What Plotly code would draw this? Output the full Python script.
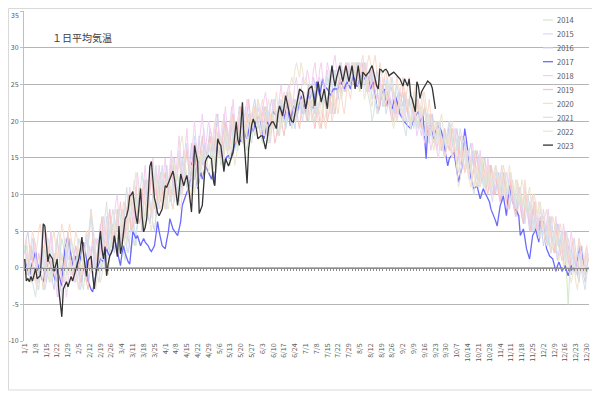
import plotly.graph_objects as go

# ---------------- data ----------------
tick_labels = ["1/1","1/8","1/15","1/22","1/29","2/5","2/12","2/19","2/26","3/4","3/11","3/18","3/25",
               "4/1","4/8","4/15","4/22","4/29","5/6","5/13","5/20","5/27","6/3","6/10","6/17","6/24",
               "7/1","7/8","7/15","7/22","7/29","8/5","8/12","8/19","8/26","9/2","9/9","9/16","9/23",
               "9/30","10/7","10/14","10/21","10/28","11/4","11/11","11/18","11/25","12/2","12/9",
               "12/16","12/23","12/30"]
month_lengths = [31, 29, 31, 30, 31, 30, 31, 31, 30, 31, 30, 31]
years = ["2014","2015","2016","2017","2018","2019","2020","2021","2022","2023"]
y_ticks = [-10, -5, 0, 5, 10, 15, 20, 25, 30, 35]

t2014 = [
 [2,3,1,0,-1,1,2,0,-1,-2,0,1,3,2,0,-1,-2,0,1,2,1,-1,0,2,4,3,1,-1,0,1,2],
 [1,-1,-2,0,2,1,-2,-3,-1,1,3,2,0,-1,1,3,4,2,1,0,2,4,5,3,2,4,6,5,3],
 [2,3,5,4,2,1,3,5,7,6,4,3,5,6,8,7,5,6,8,9,7,6,8,10,9,7,8,10,12,11,9],
 [8,10,12,11,9,8,10,12,13,11,10,12,14,13,11,10,12,14,15,13,12,11,13,15,16,14,13,15,17,16],
 [14,13,15,17,18,16,14,15,17,18,16,15,14,16,18,19,17,16,18,19,20,18,17,16,18,20,21,19,18,19,20],
 [19,18,17,19,20,21,19,18,20,21,22,20,19,18,20,22,21,19,20,22,23,21,20,19,21,22,23,22,21,22],
 [21,20,22,23,24,22,21,23,24,25,23,22,24,25,26,24,23,22,24,25,26,27,25,24,25,26,27,26,25,26,27],
 [26,25,27,26,24,25,26,27,26,25,24,26,27,25,24,23,25,26,24,23,22,24,25,23,22,21,23,24,22,21,23],
 [22,21,23,24,22,21,20,22,23,21,20,19,21,22,20,19,18,20,21,19,18,17,19,20,18,17,16,18,17,16],
 [17,18,19,17,16,15,17,18,16,15,14,16,17,15,14,13,15,16,14,13,12,14,15,13,12,11,13,14,12,11,12],
 [13,12,11,10,12,13,11,10,9,11,12,10,9,8,10,11,9,8,7,9,10,8,7,6,8,9,7,6,5,7],
 [6,5,4,6,7,5,4,3,5,6,4,3,2,4,5,3,-2,-5,-1,1,2,1,0,2,3,1,0,-1,1,2,1],
]
t2015 = [
 [3,1,-1,0,2,4,3,0,-2,-1,1,2,0,-3,-2,1,3,5,2,0,-1,1,3,2,-1,-2,0,2,4,1,-1],
 [0,2,3,1,-1,-3,-2,0,3,5,2,0,1,3,1,-1,2,4,6,3,1,4,7,5,2,3,5,4,6],
 [7,4,2,5,8,6,3,2,4,7,9,5,3,6,9,11,8,6,7,10,12,9,7,8,11,13,10,8,11,14,12],
 [10,8,11,13,15,12,9,11,14,16,13,10,12,15,17,14,11,13,16,18,15,13,12,14,17,19,16,14,16,18],
 [17,15,16,19,20,17,15,18,21,19,16,17,20,22,18,16,17,19,21,18,17,20,22,19,17,18,20,21,19,20,22],
 [21,19,18,20,22,21,18,17,19,21,23,20,18,19,22,23,21,19,20,22,24,22,20,19,21,23,24,21,20,22],
 [23,21,22,24,25,23,21,23,25,26,24,22,23,25,27,25,23,24,26,27,25,24,26,28,26,24,25,27,28,26,25],
 [27,28,26,25,27,28,27,25,24,26,27,25,23,24,26,25,23,22,24,25,23,21,22,24,23,21,20,22,23,21,22],
 [23,24,22,20,21,23,22,20,19,21,23,21,19,18,20,22,20,18,17,19,21,19,17,16,18,20,18,16,15,17],
 [18,19,17,15,16,18,17,15,13,14,16,17,15,13,12,14,16,14,12,11,13,15,13,11,10,12,14,12,10,9,11],
 [12,13,11,9,10,12,13,11,9,8,10,12,10,8,7,9,11,9,7,6,8,10,8,6,5,7,9,7,5,4],
 [6,8,6,4,3,5,7,5,3,2,4,6,4,2,1,3,5,3,1,0,2,4,2,0,-1,1,3,1,-1,0,2],
]
t2016 = [
 [2,4,5,3,1,2,4,3,0,-1,1,3,2,-1,-2,0,2,1,-2,-3,-1,-2,-4,-3,-1,1,2,0,3,4,2],
 [1,-1,0,2,1,-1,-2,0,2,4,3,6,8,4,1,0,2,1,3,5,2,0,1,3,5,7,4,2,6],
 [8,5,3,4,6,9,7,4,3,2,5,7,6,8,10,7,5,9,12,10,7,6,8,6,5,7,10,12,13,11,9],
 [12,14,11,9,10,13,15,12,10,9,11,14,16,13,11,12,15,17,14,12,13,16,18,15,14,16,17,15,17,19],
 [18,16,17,19,21,18,16,15,17,20,19,17,18,21,20,17,18,20,22,21,19,17,18,20,21,19,20,22,23,21,20],
 [19,20,22,21,19,18,20,22,23,21,19,20,21,23,22,20,21,23,24,22,20,21,23,22,21,23,24,22,21,23],
 [22,24,25,23,24,26,25,22,21,23,25,26,24,22,23,24,22,21,23,25,24,23,25,26,27,25,24,26,27,25,26],
 [27,26,27,28,26,25,27,28,27,26,25,27,26,24,25,27,26,24,23,25,26,24,22,23,25,24,22,21,23,24,22],
 [23,22,24,23,21,22,24,23,21,20,22,23,21,19,20,22,21,19,18,20,21,19,18,19,20,18,17,18,19,17],
 [18,20,19,17,16,18,19,17,15,16,18,17,15,14,16,17,15,13,14,16,15,13,12,14,15,13,11,12,14,13,11],
 [10,12,13,11,9,10,12,11,9,8,10,11,9,7,8,10,9,7,6,8,9,7,5,6,8,7,5,4,6,7],
 [5,3,4,6,5,3,2,4,5,3,1,2,4,3,1,0,2,3,1,-1,0,2,1,-1,-2,0,1,-1,-2,0,1],
]
t2017 = [
 1.2,0.3,-0.5,-1.1,0.0,0.8,1.5,2.2,0.8,0.0,
 -1.1,-1.5,-1.9,-1.1,0.0,1.2,0.8,0.3,-0.5,-1.2,
 -1.9,-0.1,-1.0,-2.0,-2.5,0.5,2.6,3.5,4.4,2.8,
 1.2,0.3,1.0,1.6,-0.1,0.5,1.2,2.5,3.5,2.3,
 1.2,-1.8,-2.5,-3.0,-3.3,-1.9,-1.0,-0.1,0.5,1.2,
 1.0,0.8,1.8,2.6,2.0,1.6,2.0,2.6,4.4,3.5,
 2.2,1.2,0.3,2.0,3.0,2.0,1.2,0.8,0.5,2.5,
 4.9,4.5,4.0,4.4,3.8,3.0,3.5,4.0,3.5,3.2,
 3.0,2.5,2.2,2.6,3.0,4.5,6.3,5.0,4.0,3.0,
 2.8,2.6,3.8,4.9,6.7,6.0,5.3,5.0,4.6,4.4,
 5.3,6.3,8.5,9.2,9.8,10.3,10.8,12.0,13.9,14.8,
 15.8,13.0,10.8,12.0,13.1,12.1,13.0,13.9,13.5,13.1,
 12.6,12.1,13.1,11.2,14.5,17.2,16.8,16.2,15.0,13.9,
 14.5,15.2,15.3,14.9,15.5,16.2,17.0,17.5,18.0,17.5,
 17.2,18.0,18.6,18.0,17.6,18.7,19.9,19.2,18.6,19.5,
 20.2,20.7,20.3,19.9,18.8,17.6,18.7,19.9,19.6,19.4,
 20.3,21.3,21.0,20.8,20.7,21.4,22.1,21.2,20.3,21.4,
 22.6,21.0,19.4,20.8,22.1,21.7,21.5,21.3,22.4,23.5,
 22.8,22.1,21.3,22.6,24.0,23.0,22.0,21.7,23.5,25.4,
 24.5,23.5,24.6,25.8,24.8,24.6,24.4,24.0,23.5,24.0,
 24.4,24.4,24.4,24.4,25.0,25.4,24.8,24.4,25.0,25.4,
 24.9,24.4,25.3,26.2,25.5,24.8,24.8,25.8,26.7,26.2,
 25.8,26.0,26.2,25.3,24.4,25.0,25.4,23.5,22.0,21.3,
 22.4,23.5,24.0,24.4,22.1,22.6,23.1,22.4,21.7,22.6,
 23.5,22.8,22.1,21.0,20.7,20.3,19.9,19.6,19.4,19.2,
 19.0,19.7,20.3,20.7,21.0,21.3,19.9,20.3,20.7,17.8,
 14.9,18.6,19.0,19.4,18.5,17.6,18.5,19.0,19.4,19.0,
 18.6,17.4,16.2,15.0,13.9,14.9,15.2,15.5,15.8,14.5,
 13.1,11.7,12.6,13.5,16.3,19.0,17.6,15.7,13.9,12.3,
 11.5,10.8,11.0,11.2,10.3,9.4,10.1,10.8,10.3,9.8,
 9.4,9.0,8.0,7.5,7.1,6.4,5.7,7.1,8.5,9.1,
 9.8,8.5,7.1,9.1,11.2,10.1,9.0,8.5,8.0,7.5,
 7.1,4.4,4.8,5.3,4.0,2.6,1.9,1.2,2.8,4.4,
 4.8,5.3,4.4,3.5,6.3,6.3,6.3,4.5,2.6,2.1,
 1.6,1.4,1.2,0.4,-0.5,0.2,0.8,0.2,-0.5,-0.1,
 0.3,-0.4,-1.1,-0.4,0.3,-0.1,-0.5,0.3,1.2,2.1,
 3.0,1.6,0.3,0.0,-0.4,-0.1,
]
t2018 = [
 [0,2,1,-1,-2,0,3,2,0,-2,1,4,6,3,0,-1,2,5,3,0,-2,-4,-3,-5,-3,-1,-2,-4,-2,0,1],
 [-1,-2,0,-1,-3,-2,0,1,-1,-2,1,3,2,0,2,4,3,1,2,5,7,4,3,6,8,5,4,7,9],
 [10,6,5,8,7,4,5,8,11,9,6,7,10,13,11,8,9,12,14,11,8,10,13,15,12,10,11,14,12,10,13],
 [15,12,11,14,16,13,11,13,16,18,15,12,14,17,19,16,14,15,18,20,17,15,17,19,21,18,16,18,20,19],
 [18,17,19,21,20,18,16,18,20,22,19,17,18,21,23,20,18,19,21,22,20,19,21,23,22,20,19,21,22,21,23],
 [22,20,21,23,24,22,20,19,21,23,22,20,21,23,25,23,21,22,24,25,23,22,23,25,26,24,23,24,26,25],
 [25,27,26,24,25,27,28,26,25,27,28,26,24,26,28,27,25,26,28,29,27,26,27,28,26,25,27,28,27,26,27],
 [28,27,26,27,28,26,25,27,28,26,24,25,27,26,24,23,25,26,24,22,23,25,24,22,21,23,24,22,20,21,23],
 [22,20,21,23,22,20,19,21,22,20,18,19,21,20,18,17,19,20,18,16,17,19,18,16,15,17,18,16,15,16],
 [17,18,16,15,17,19,18,16,14,15,17,18,16,14,13,15,17,15,13,12,14,16,14,12,11,13,15,13,11,10,12],
 [13,11,10,12,14,12,10,9,11,13,11,9,8,10,12,10,8,7,9,11,9,7,6,8,10,8,6,5,7,8],
 [7,5,4,6,8,6,4,3,5,7,5,3,2,4,6,4,2,1,3,5,3,1,0,2,4,2,0,-1,1,3,1],
]
t2019 = [
 [1,-1,0,2,3,1,-1,-2,0,2,1,-1,-3,-1,1,3,2,0,-1,1,2,4,2,0,-2,-1,1,3,5,2,0],
 [-1,1,3,2,0,-2,-1,1,0,-2,-3,-1,2,4,3,1,0,2,5,7,4,2,3,6,8,5,3,4,6],
 [5,7,9,6,4,5,8,10,7,5,6,9,11,8,6,7,10,12,9,7,8,11,13,10,8,9,12,11,9,10,12],
 [13,11,10,12,14,12,10,11,13,15,13,11,12,14,16,14,12,13,15,17,15,13,14,16,18,16,14,15,17,18],
 [16,15,17,19,18,16,15,17,19,20,18,16,17,19,21,19,17,18,20,22,20,18,19,21,23,21,19,20,22,21,20],
 [19,18,20,22,21,19,18,20,21,19,17,18,20,22,21,19,18,20,22,23,21,20,21,23,22,20,19,21,23,22],
 [21,20,22,23,21,20,19,21,22,20,19,21,23,22,20,21,23,24,22,21,23,25,26,24,25,27,28,26,25,27,28],
 [27,26,28,27,25,26,28,27,25,24,26,27,25,24,26,25,23,22,24,25,23,22,24,23,21,20,22,23,21,22,24],
 [23,25,24,22,21,23,24,22,20,21,23,22,20,19,21,22,20,18,19,21,20,18,17,19,20,18,16,17,19,18],
 [17,16,18,19,17,15,14,16,18,17,15,13,14,16,15,13,12,14,16,15,13,11,12,14,13,11,10,12,14,12,10],
 [11,12,10,9,11,13,11,9,8,10,12,10,8,7,9,11,9,7,6,8,10,8,6,5,7,9,7,5,4,6],
 [7,6,4,3,5,7,5,3,2,4,6,4,2,1,3,5,3,1,0,2,4,2,0,-1,1,3,1,-1,0,2,1],
]
t2020 = [
 [3,4,2,1,3,5,4,2,3,5,6,4,2,3,5,3,1,2,4,5,3,1,2,4,6,5,3,2,4,6,4],
 [2,3,5,4,2,0,-1,1,3,5,4,6,8,6,4,2,1,3,5,4,2,3,5,7,6,4,5,7,8],
 [6,4,5,7,9,7,5,6,8,10,8,6,7,9,11,9,7,8,10,12,10,8,7,9,11,13,11,9,8,10,9],
 [8,10,12,11,9,8,10,12,11,9,8,10,12,14,12,10,9,11,13,15,13,11,12,14,16,14,13,15,17,16],
 [17,18,20,19,17,16,18,20,19,17,16,18,20,21,19,17,18,20,21,19,18,17,19,21,20,18,19,21,22,20,21],
 [20,22,23,21,20,22,23,21,19,20,22,24,22,20,21,23,24,22,21,22,24,23,21,20,22,24,23,22,23,24],
 [22,21,23,22,20,21,23,22,20,19,21,22,20,19,21,23,22,20,21,23,22,21,23,24,22,21,23,25,24,23,25],
 [26,27,28,27,26,28,29,27,26,28,29,28,27,28,29,27,26,28,27,25,26,27,25,24,26,25,23,24,26,25,24],
 [25,26,24,23,25,26,24,22,23,25,24,22,21,23,24,22,20,21,23,21,19,18,20,19,17,16,18,17,15,16],
 [17,18,16,15,17,16,14,13,15,16,14,13,15,14,12,11,13,14,12,11,13,15,14,12,11,13,14,12,11,13,12],
 [14,13,11,10,12,14,13,11,10,12,13,11,9,10,12,11,9,8,10,12,10,8,7,9,10,8,6,7,9,8],
 [6,5,7,8,6,4,5,7,6,4,3,5,6,4,2,3,4,2,1,3,4,2,1,2,4,3,1,0,2,3,1],
]
t2021 = [
 [1,0,-1,1,0,-2,-3,-4,-2,-3,-1,1,2,0,2,4,3,1,-1,0,2,4,5,3,1,2,4,3,1,2,4],
 [3,1,0,2,4,3,1,0,2,4,3,5,7,6,3,1,-1,-2,0,3,5,7,9,6,4,6,8,7,5],
 [6,8,7,5,6,9,11,9,7,8,10,12,10,8,9,11,13,11,10,12,11,9,8,10,12,14,12,11,13,12,10],
 [11,13,12,10,9,11,13,12,10,11,13,15,14,12,11,13,14,12,13,15,17,16,14,13,15,16,14,15,17,16],
 [15,17,16,14,15,17,18,16,15,17,19,18,16,17,19,20,18,17,19,21,20,18,17,19,20,18,17,19,21,20,19],
 [20,21,19,18,20,22,21,19,20,22,23,21,20,21,23,22,20,19,21,22,20,19,21,23,22,21,22,23,22,21],
 [22,21,20,22,23,21,20,22,21,23,24,22,23,25,26,25,24,26,27,26,25,27,28,27,26,25,27,26,25,27,28],
 [27,26,28,27,26,25,27,28,26,24,23,22,20,21,23,22,21,23,24,22,23,25,26,24,25,26,24,23,25,24,22],
 [21,20,19,18,20,21,19,20,22,21,19,20,22,21,19,18,20,21,19,18,20,19,17,18,20,19,17,16,18,17],
 [19,20,18,17,19,18,16,17,19,18,16,15,14,16,15,13,11,10,12,13,11,12,14,13,11,12,13,11,10,12,13],
 [14,12,11,13,12,10,11,13,12,10,9,11,10,8,9,11,10,8,9,10,8,7,9,8,6,5,7,6,4,5],
 [6,7,5,4,6,7,5,3,4,6,5,3,4,5,3,1,2,4,3,1,0,1,-1,0,2,1,-1,-2,-3,-1,0],
]
t2022 = [
 [2,1,0,-1,-2,-1,0,-2,-3,-1,0,-1,-3,-2,0,1,-1,-2,0,1,0,-2,-1,1,2,0,-1,-2,0,1,-1],
 [0,1,-1,-2,-3,-1,0,2,1,-1,0,2,1,-1,-2,-3,-1,0,-2,-1,1,2,0,-1,1,3,4,6,5],
 [4,3,5,7,5,3,4,6,8,10,9,11,13,12,10,8,6,5,7,9,8,6,5,7,10,12,11,9,10,13,12],
 [11,9,8,10,13,15,14,12,13,15,17,18,16,14,12,11,13,14,12,10,12,14,16,15,13,12,14,15,13,14],
 [15,16,14,13,15,17,16,14,15,17,18,16,15,17,16,14,15,17,19,18,17,19,20,18,17,19,21,22,20,21,23],
 [22,20,19,18,20,19,17,18,20,21,19,20,22,21,19,20,22,23,22,24,25,26,25,27,28,27,26,28,27,25],
 [26,25,24,23,22,24,25,23,22,21,23,22,20,21,23,22,21,22,24,23,22,24,25,23,24,26,27,26,25,27,28],
 [27,28,26,25,24,26,25,23,24,26,25,23,22,24,23,21,22,24,25,23,22,23,25,24,22,20,19,21,20,22,23],
 [22,21,20,22,23,21,20,22,24,23,21,20,22,21,23,24,22,21,20,19,17,16,18,19,18,20,21,19,18,17],
 [18,17,19,20,18,16,13,11,12,14,15,16,14,13,15,14,12,11,13,14,12,11,13,15,14,12,11,13,12,11,13],
 [14,13,12,11,13,12,10,11,13,14,12,11,10,12,11,9,10,12,11,9,8,10,11,9,8,10,9,7,8,9],
 [7,5,4,3,5,4,2,3,5,4,2,1,3,2,0,1,2,0,-1,-2,-1,0,-2,-3,-1,0,1,-1,0,2,1],
]
t2023 = [
 1.2,-1.8,-1.5,-1.9,-1.2,-1.8,-1.0,-0.1,-1.5,-1.3,
 -1.1,2.0,6.0,5.7,3.0,0.8,1.9,1.5,1.2,-0.5,
 0.3,1.2,-2.9,-4.5,-6.7,-2.9,-2.3,-1.9,-2.6,-2.0,
 -1.2,-1.8,-1.0,-0.1,0.5,1.2,2.5,4.2,2.0,0.3,
 -1.2,1.0,1.3,1.6,-1.0,-2.9,-1.0,0.3,3.0,5.0,
 2.5,1.2,2.9,-1.1,0.5,1.6,2.0,2.6,4.4,3.0,
 1.5,5.7,1.9,3.0,5.0,6.7,7.1,8.0,9.8,10.0,
 10.4,8.5,7.0,6.0,9.0,10.8,7.0,4.9,5.5,6.7,
 10.0,13.8,14.5,12.0,9.5,8.7,7.5,7.1,7.5,8.0,
 9.5,11.2,11.0,11.5,12.0,12.5,13.2,12.1,10.0,8.5,
 10.5,12.8,12.0,11.2,12.0,12.6,11.2,9.0,7.6,12.0,
 16.7,15.5,14.5,7.4,8.0,8.5,11.5,14.5,15.0,15.3,
 15.0,14.9,12.1,11.2,14.5,17.6,17.0,16.7,15.0,13.1,
 14.9,14.5,13.9,14.5,15.3,15.8,18.0,19.9,17.5,16.7,
 19.5,22.6,17.6,14.0,11.5,16.2,18.0,19.5,20.3,19.5,
 19.0,17.6,17.8,18.0,18.0,17.0,16.2,17.5,19.2,19.5,
 19.9,19.9,19.5,19.0,21.0,22.1,21.5,20.7,22.0,23.5,
 22.5,21.3,20.5,20.0,19.9,21.0,22.1,23.5,24.4,24.2,
 24.0,23.0,21.7,23.0,24.4,24.6,24.8,23.5,22.1,24.0,
 25.4,24.0,22.6,23.5,24.4,23.0,21.7,24.0,26.0,27.6,
 26.0,24.8,26.0,27.0,27.6,26.5,25.4,26.5,27.6,26.5,
 25.4,26.5,27.6,26.0,24.4,26.0,27.6,26.0,24.4,26.7,
 26.5,26.2,26.5,26.7,27.2,27.6,26.7,25.5,24.8,24.4,
 27.1,27.0,26.7,27.0,27.1,26.8,26.2,26.4,26.6,26.7,
 26.5,26.2,26.0,25.8,25.3,24.8,25.8,25.3,24.8,25.8,
 23.5,23.0,22.0,21.3,25.4,24.8,23.1,24.0,24.4,24.8,
 25.2,25.5,25.3,25.1,24.5,23.1,21.7,
]

colors = ["#d2e8cc", "#d3dcf5", "#cfcfee", "#6a6aff", "#f5cff3",
          "#f7c4c4", "#f9dccd", "#d6e2e6", "#ece5d1", "#333333"]
widths = [1, 1, 1, 1.3, 1, 1, 1, 1, 1, 1.3]


def flatten(months, name):
    bad = [i + 1 for i, (m, n) in enumerate(zip(months, month_lengths)) if len(m) != n]
    if bad or len(months) != 12:
        raise ValueError(f"{name}: wrong month lengths {bad} " +
                         str([len(m) for m in months]))
    return [v for m in months for v in m]


if len(t2017) != 366:
    raise ValueError(f"2017 length {len(t2017)}")

series = [flatten(t2014, "2014"), flatten(t2015, "2015"), flatten(t2016, "2016"), t2017,
          flatten(t2018, "2018"), flatten(t2019, "2019"), flatten(t2020, "2020"),
          flatten(t2021, "2021"), flatten(t2022, "2022"), t2023]
days = list(range(366))

# ---------------- figure ----------------
fig = go.Figure()
for name, vals, col, w in zip(years, series, colors, widths):
    fig.add_trace(go.Scatter(x=days[:len(vals)], y=vals, mode="lines", name=name,
                             line=dict(color=col, width=w), showlegend=False,
                             hoverinfo="skip"))
# helper trace for the horizontal axis crossing at 0
fig.add_trace(go.Scatter(x=[0, 365], y=[None, None], xaxis="x2", mode="lines",
                         showlegend=False, hoverinfo="skip"))

# the page has an 8px body margin, so the figure is drawn 8px smaller
OFF = 8
W, H = 600 - OFF, 393 - OFF
L, R, T, B = 24 - OFF, 11, 11 - OFF, 52
pw, ph = W - L - R, H - T - B
PLOT_LEFT, PLOT_BOTTOM = 24, 341   # absolute page pixels


def px_x(px):
    return (px - PLOT_LEFT) / pw


def px_y(py):
    return (PLOT_BOTTOM - py) / ph


font_family = "Noto Sans CJK JP, Noto Sans, sans-serif"
# the top label (35) sits at the very edge of the page, so it is written as an
# annotation nudged just inside the page instead of as an axis tick label
y_ticktext = [str(v) if v != y_ticks[-1] else "" for v in y_ticks]

fig.update_layout(
    width=W, height=H,
    margin=dict(l=L, r=R, t=T, b=B, autoexpand=False),
    paper_bgcolor="white", plot_bgcolor="white",
    showlegend=False,
    font=dict(family=font_family, color="#595959"),
    xaxis=dict(range=[-0.5, 365.5], tickmode="array", tickvals=list(range(0, 366, 7)),
               ticktext=tick_labels, tickangle=-90, tickfont=dict(size=7, color="#595959"),
               showgrid=False, zeroline=False, showline=False, ticks="", automargin=False),
    xaxis2=dict(overlaying="x", anchor="free", position=10 / 45.05, range=[-0.5, 365.5],
                showline=True, linecolor="#8c8c8c", linewidth=1, ticks="outside",
                ticklen=2, tickcolor="#8c8c8c", tickmode="linear", tick0=0, dtick=2,
                showticklabels=False, showgrid=False, zeroline=False, automargin=False),
    yaxis=dict(range=[-10, 35.05], tickmode="array", tickvals=y_ticks,
               ticktext=y_ticktext, showgrid=True,
               gridcolor="#b4b4b4", gridwidth=1, zeroline=False, showline=True,
               linecolor="#bfbfbf", ticks="outside", ticklen=3, tickcolor="#bfbfbf",
               tickfont=dict(size=7, color="#595959"), automargin=False),
)

shapes = [
    # hide gridline at the very top (35)
    dict(type="line", xref="paper", yref="y", x0=0.003, x1=1.0, y0=35, y1=35,
         line=dict(color="white", width=2), layer="above"),
    # chart border
    dict(type="rect", xref="paper", yref="paper", x0=px_x(8.5), x1=px_x(597),
         y0=px_y(390), y1=px_y(8.5), line=dict(color="#d9d9d9", width=1)),
]
annotations = [
    dict(text="１日平均気温", xref="paper", yref="paper", x=px_x(50), y=px_y(38),
         xanchor="left", yanchor="middle", showarrow=False,
         font=dict(size=10, color="#404040", family=font_family)),
    dict(text=str(y_ticks[-1]), xref="paper", yref="paper", x=px_x(19.5), y=px_y(9),
         xanchor="right", yanchor="top", showarrow=False, borderpad=0,
         font=dict(size=7, color="#595959", family=font_family)),
]
for i, (name, col) in enumerate(zip(years, colors)):
    yy = px_y(20 + i * 13.9)
    shapes.append(dict(type="line", xref="paper", yref="paper", x0=px_x(543), x1=px_x(553),
                       y0=yy, y1=yy, line=dict(color=col, width=1.3 if i in (3, 9) else 1.2)))
    annotations.append(dict(text=name, xref="paper", yref="paper", x=px_x(555), y=yy,
                            xanchor="left", yanchor="middle", showarrow=False,
                            font=dict(size=7.5, color="#595959", family=font_family)))
fig.update_layout(shapes=shapes, annotations=annotations)

fig.write_html("out.html")
